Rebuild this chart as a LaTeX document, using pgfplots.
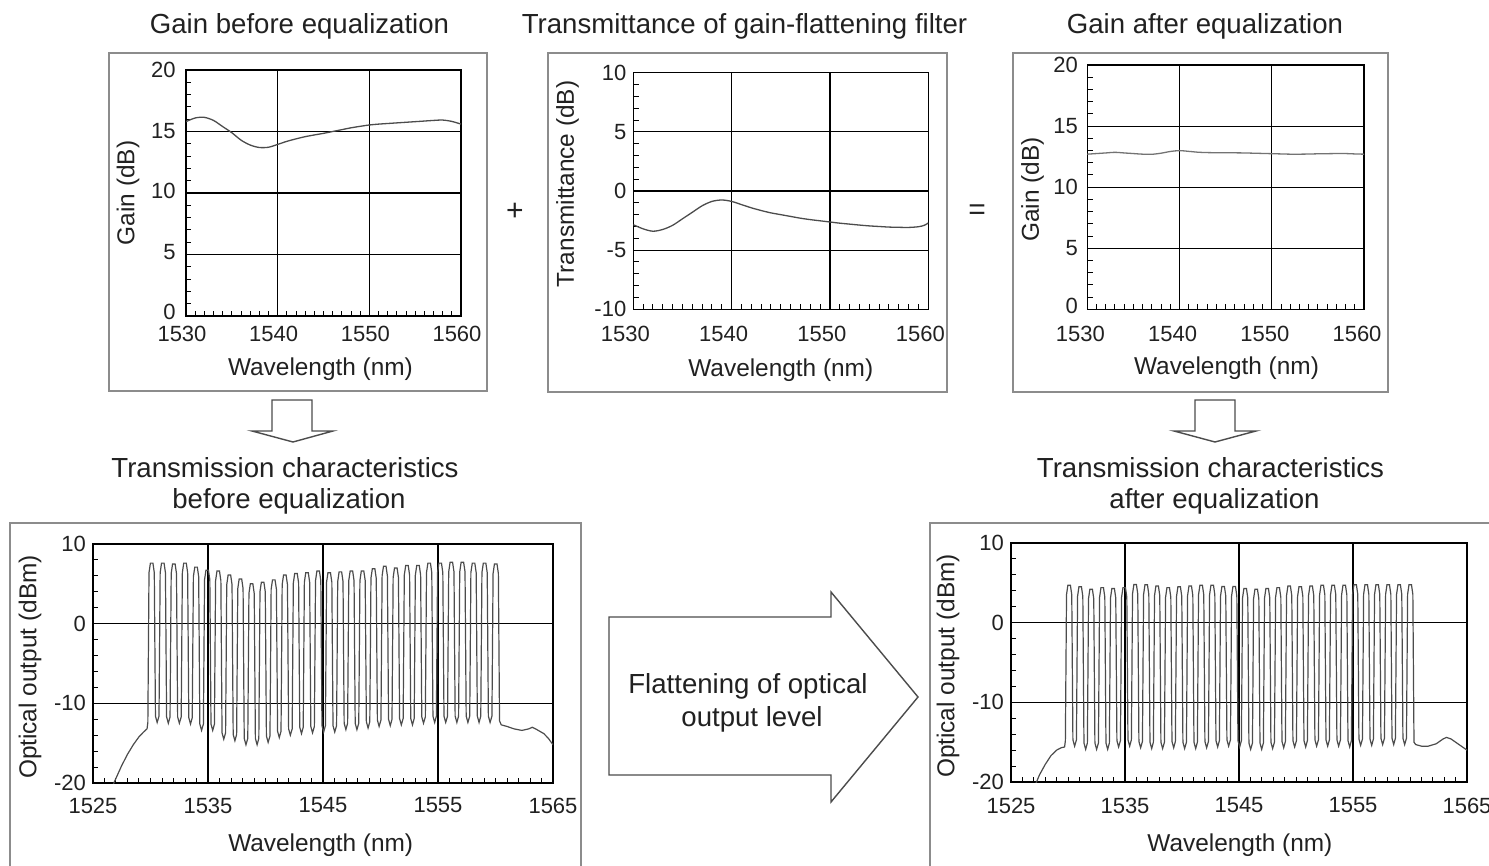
\documentclass[border=0pt]{standalone}
\usepackage{fontspec}
\setmainfont{Liberation Sans}
\usepackage{pgfplots}
\usepackage{pgfplotstable}
\pgfplotsset{compat=1.18}

\definecolor{boxgray}{gray}{0.55}
\definecolor{txt}{gray}{0.13}
\definecolor{trace}{gray}{0.3}

% WDM spectra: x = wavelength (nm), b = before equalization, a = after (dBm)
\pgfplotstableread{
x b a
1526.60 -20.7 -22.0
1527.00 -19.4 -20.8
1527.50 -17.8 -19.1
1528.00 -16.4 -17.8
1528.50 -15.2 -16.7
1529.00 -14.2 -16.0
1529.40 -13.6 -15.7
1529.70 -13.2 -15.6
1529.77 -12.4 -14.8
1529.87 6.4 3.5
1529.99 7.6 4.7
1530.21 7.6 4.7
1530.33 6.4 3.5
1530.43 -11.6 -14.7
1530.58 -12.4 -15.5
1530.74 -11.6 -14.7
1530.84 6.4 3.3
1530.96 7.6 4.5
1531.18 7.6 4.5
1531.30 6.4 3.3
1531.40 -11.7 -15.1
1531.55 -12.5 -15.9
1531.70 -11.7 -15.1
1531.80 6.3 3.0
1531.92 7.5 4.2
1532.14 7.5 4.2
1532.26 6.3 3.0
1532.36 -11.7 -15.1
1532.51 -12.5 -15.9
1532.67 -11.7 -15.1
1532.77 6.4 3.2
1532.89 7.6 4.4
1533.11 7.6 4.4
1533.23 6.4 3.2
1533.33 -11.8 -15.1
1533.48 -12.6 -15.9
1533.63 -11.8 -15.1
1533.73 5.9 3.1
1533.85 7.1 4.3
1534.07 7.1 4.3
1534.19 5.9 3.1
1534.29 -12.6 -14.8
1534.44 -13.4 -15.6
1534.60 -12.6 -14.8
1534.70 5.5 3.2
1534.82 6.7 4.4
1535.04 6.7 4.4
1535.16 5.5 3.2
1535.26 -12.6 -14.7
1535.41 -13.4 -15.5
1535.56 -12.6 -14.7
1535.66 5.4 3.6
1535.78 6.6 4.8
1536.00 6.6 4.8
1536.12 5.4 3.6
1536.22 -13.7 -14.9
1536.37 -14.5 -15.7
1536.53 -13.7 -14.9
1536.63 4.9 3.55
1536.75 6.1 4.75
1536.97 6.1 4.75
1537.09 4.9 3.55
1537.19 -13.9 -15.0
1537.34 -14.7 -15.8
1537.49 -13.9 -15.0
1537.59 4.4 3.4
1537.71 5.6 4.6
1537.93 5.6 4.6
1538.05 4.4 3.4
1538.15 -14.4 -15.0
1538.30 -15.2 -15.8
1538.46 -14.4 -15.0
1538.56 3.8 3.2
1538.68 5.0 4.4
1538.90 5.0 4.4
1539.02 3.8 3.2
1539.12 -14.4 -14.9
1539.27 -15.2 -15.7
1539.42 -14.4 -14.9
1539.52 4.0 3.3
1539.64 5.2 4.5
1539.86 5.2 4.5
1539.98 4.0 3.3
1540.08 -14.1 -15.0
1540.23 -14.9 -15.8
1540.39 -14.1 -15.0
1540.49 4.3 3.4
1540.61 5.5 4.6
1540.83 5.5 4.6
1540.95 4.3 3.4
1541.05 -13.5 -15.0
1541.20 -14.3 -15.8
1541.35 -13.5 -15.0
1541.45 4.9 3.5
1541.57 6.1 4.7
1541.79 6.1 4.7
1541.91 4.9 3.5
1542.01 -13.2 -14.9
1542.16 -14.0 -15.7
1542.32 -13.2 -14.9
1542.42 5.1 3.5
1542.54 6.3 4.7
1542.76 6.3 4.7
1542.88 5.1 3.5
1542.98 -13.0 -14.8
1543.13 -13.8 -15.6
1543.28 -13.0 -14.8
1543.38 5.2 3.35
1543.50 6.4 4.55
1543.72 6.4 4.55
1543.84 5.2 3.35
1543.94 -12.9 -14.7
1544.09 -13.7 -15.5
1544.25 -12.9 -14.7
1544.35 5.4 3.35
1544.47 6.6 4.55
1544.69 6.6 4.55
1544.81 5.4 3.35
1544.91 -12.8 -14.8
1545.06 -13.6 -15.6
1545.21 -12.8 -14.8
1545.31 5.2 3.1
1545.43 6.4 4.3
1545.65 6.4 4.3
1545.77 5.2 3.1
1545.87 -12.8 -15.1
1546.02 -13.6 -15.9
1546.18 -12.8 -15.1
1546.28 5.3 3.0
1546.40 6.5 4.2
1546.62 6.5 4.2
1546.74 5.3 3.0
1546.84 -12.5 -15.1
1546.99 -13.3 -15.9
1547.14 -12.5 -15.1
1547.24 5.4 3.1
1547.36 6.6 4.3
1547.58 6.6 4.3
1547.70 5.4 3.1
1547.80 -12.5 -15.0
1547.95 -13.3 -15.8
1548.11 -12.5 -15.0
1548.21 5.4 3.2
1548.33 6.6 4.4
1548.55 6.6 4.4
1548.67 5.4 3.2
1548.77 -12.3 -14.9
1548.92 -13.1 -15.7
1549.07 -12.3 -14.9
1549.17 5.7 3.4
1549.29 6.9 4.6
1549.51 6.9 4.6
1549.63 5.7 3.4
1549.73 -12.1 -14.8
1549.88 -12.9 -15.6
1550.04 -12.1 -14.8
1550.14 6.0 3.3
1550.26 7.2 4.5
1550.48 7.2 4.5
1550.60 6.0 3.3
1550.70 -12.0 -14.8
1550.85 -12.8 -15.6
1551.00 -12.0 -14.8
1551.10 5.8 3.4
1551.22 7.0 4.6
1551.44 7.0 4.6
1551.56 5.8 3.4
1551.66 -11.9 -14.7
1551.81 -12.7 -15.5
1551.97 -11.9 -14.7
1552.07 6.1 3.5
1552.19 7.3 4.7
1552.41 7.3 4.7
1552.53 6.1 3.5
1552.63 -11.9 -14.7
1552.78 -12.7 -15.5
1552.93 -11.9 -14.7
1553.03 6.1 3.5
1553.15 7.3 4.7
1553.37 7.3 4.7
1553.49 6.1 3.5
1553.59 -11.7 -14.7
1553.74 -12.5 -15.5
1553.90 -11.7 -14.7
1554.00 6.4 3.5
1554.12 7.6 4.7
1554.34 7.6 4.7
1554.46 6.4 3.5
1554.56 -11.6 -14.8
1554.71 -12.4 -15.6
1554.86 -11.6 -14.8
1554.96 6.4 3.55
1555.08 7.6 4.75
1555.30 7.6 4.75
1555.42 6.4 3.55
1555.52 -11.6 -14.6
1555.67 -12.4 -15.4
1555.83 -11.6 -14.6
1555.93 6.5 3.55
1556.05 7.7 4.75
1556.27 7.7 4.75
1556.39 6.5 3.55
1556.49 -11.6 -14.6
1556.64 -12.4 -15.4
1556.79 -11.6 -14.6
1556.89 6.5 3.55
1557.01 7.7 4.75
1557.23 7.7 4.75
1557.35 6.5 3.55
1557.45 -11.6 -14.5
1557.60 -12.4 -15.3
1557.76 -11.6 -14.5
1557.86 6.4 3.55
1557.98 7.6 4.75
1558.20 7.6 4.75
1558.32 6.4 3.55
1558.42 -11.6 -14.5
1558.57 -12.4 -15.3
1558.72 -11.6 -14.5
1558.82 6.4 3.55
1558.94 7.6 4.75
1559.16 7.6 4.75
1559.28 6.4 3.55
1559.38 -11.6 -14.5
1559.53 -12.4 -15.3
1559.69 -11.6 -14.5
1559.79 6.3 3.55
1559.91 7.5 4.75
1560.13 7.5 4.75
1560.25 6.3 3.55
1560.35 -12.2 -15.0
1560.50 -12.7 -15.3
1561.00 -12.9 -15.5
1561.60 -13.2 -15.5
1562.30 -13.4 -15.2
1562.90 -13.2 -14.6
1563.20 -13.0 -14.4
1563.60 -13.3 -14.6
1564.20 -13.8 -15.2
1564.60 -14.4 -15.6
1565.00 -15.2 -16.0
}\spectra

\pgfplotsset{
  panel/.style={
    scale only axis,
    axis line style={black, line width=0.7pt},
    tick pos=left, tick align=inside,
    major tick length=0pt, minor tick length=2.6pt,
    minor tick style={black, line width=0.5pt},
    grid=major, grid style={black, line width=0.55pt},
    tick label style={font=\fontsize{11}{13}\selectfont, text=txt},
    label style={font=\fontsize{12.2}{14}\selectfont, text=txt},
    /pgf/number format/assume math mode=true,
    /pgf/number format/1000 sep={},
    xlabel={Wavelength (nm)},
  },
  gainpanel/.style={panel,
    xmin=1530, xmax=1560, xtick={1530,1540,1550,1560},
    minor x tick num=9, minor y tick num=4},
  specpanel/.style={panel,
    width=230pt, height=119.5pt,
    xmin=1525, xmax=1565, ymin=-20, ymax=10,
    xtick={1525,1535,1545,1555,1565}, ytick={-20,-10,0,10},
    minor x tick num=9, minor y tick num=4,
    ylabel={Optical output (dBm)}},
}

\begin{document}
\begin{tikzpicture}
\useasboundingbox (0,0) rectangle (744.5pt,-433pt);

\begin{scope}[x=0.5pt,y=-0.5pt]
% frames
\draw[boxgray, line width=0.9pt] (109.3,53.3) rectangle (486.7,391);
\draw[boxgray, line width=0.9pt] (548.3,53.3) rectangle (947.3,391.7);
\draw[boxgray, line width=0.9pt] (1013.3,53.3) rectangle (1388.3,391.7);
\draw[boxgray, line width=0.9pt] (10,523) rectangle (581,890);
\draw[boxgray, line width=0.9pt] (930,523) rectangle (1510,890);
% block arrows
\draw[black!70, line width=0.7pt, fill=white]
  (272,400) -- (312,400) -- (312,431) -- (333,431) -- (293,442) -- (252,431) -- (272,431) -- cycle;
\draw[black!70, line width=0.7pt, fill=white]
  (1195,400) -- (1235,400) -- (1235,431) -- (1256,431) -- (1215,442) -- (1174,431) -- (1195,431) -- cycle;
\draw[black!70, line width=0.7pt, fill=white]
  (609,617) -- (831,617) -- (831,592) -- (918,697) -- (831,802) -- (831,775) -- (609,775) -- cycle;
% texts
\begin{scope}[every node/.style={text=txt, font=\fontsize{13.8}{16}\selectfont, anchor=base}]
\node at (299.5,34) {Gain before equalization};
\node at (744.5,34) {Transmittance of gain-flattening filter};
\node at (1205,34) {Gain after equalization};
\node at (285,477) {Transmission characteristics};
\node at (289,508) {before equalization};
\node at (1210.5,477) {Transmission characteristics};
\node at (1214.5,508) {after equalization};
\node at (748,693) {Flattening of optical};
\node at (752,726) {output level};
\end{scope}
\node[text=txt, font=\fontsize{15}{17}\selectfont] at (515,212) {+};
\node[text=txt, font=\fontsize{15}{17}\selectfont] at (977,212) {=};
\end{scope}

% gain before equalization
\begin{axis}[gainpanel, anchor=south west, at={(93pt,-158pt)},
  width=137.5pt, height=123pt,
  ymin=0, ymax=20, ytick={0,5,10,15,20},
  yticklabels={\raisebox{4.5pt}{0},\raisebox{3pt}{5},\raisebox{2.5pt}{10},15,20},
  ylabel={Gain (dB)},
  yticklabel style={xshift=-1.65pt}, xticklabel style={yshift=-1.5pt, xshift=-2pt},
  xlabel style={at={(axis description cs:0.489,-0.215)}, anchor=center},
  ylabel style={at={(axis description cs:-0.211,0.5)}, anchor=center}]
\addplot[trace, line width=0.65pt, smooth] coordinates {
  (1530,15.8)(1531,16.1)(1532,16.15)(1533,15.9)(1534,15.4)(1535,14.9)
  (1536,14.3)(1537,13.9)(1538,13.7)(1539,13.72)(1540,13.95)(1541,14.2)
  (1542,14.4)(1543,14.58)(1544,14.72)(1545,14.85)(1546,15.0)(1547,15.15)
  (1548,15.3)(1549,15.42)(1550,15.53)(1551,15.6)(1552,15.65)(1553,15.7)
  (1554,15.75)(1555,15.8)(1556,15.85)(1557,15.9)(1558,15.93)(1559,15.82)
  (1560,15.6)};
\end{axis}

% transmittance of the filter
\begin{axis}[gainpanel, anchor=south west, at={(316.65pt,-154.65pt)},
  width=147.5pt, height=118.3pt,
  ymin=-10, ymax=10, ytick={-10,-5,0,5,10},
  ylabel={Transmittance (dB)},
  xticklabel style={yshift=-4.8pt, xshift=-4pt},
  xlabel style={at={(axis description cs:0.5,-0.257)}, anchor=center},
  ylabel style={at={(axis description cs:-0.223,0.53)}, anchor=center}]
\addplot[trace, line width=0.65pt, smooth] coordinates {
  (1530,-2.85)(1531,-3.2)(1532,-3.4)(1533,-3.25)(1534,-2.9)(1535,-2.35)
  (1536,-1.8)(1537,-1.25)(1538,-0.88)(1539,-0.76)(1540,-0.88)(1541,-1.15)
  (1542,-1.42)(1543,-1.65)(1544,-1.85)(1545,-2.0)(1546,-2.15)(1547,-2.3)
  (1548,-2.42)(1549,-2.52)(1550,-2.62)(1551,-2.72)(1552,-2.8)(1553,-2.88)
  (1554,-2.95)(1555,-3.0)(1556,-3.05)(1557,-3.07)(1558,-3.08)(1559,-3.02)
  (1559.6,-2.9)(1560,-2.7)};
\end{axis}

% gain after equalization
\begin{axis}[gainpanel, anchor=south west, at={(543.65pt,-154.65pt)},
  width=138.35pt, height=122.15pt,
  ymin=0, ymax=20, ytick={0,5,10,15,20},
  yticklabels={\raisebox{3pt}{0},5,10,15,20},
  ylabel={Gain (dB)},
  yticklabel style={xshift=-1.15pt}, xticklabel style={yshift=-4.8pt, xshift=-3.5pt},
  xlabel style={at={(axis description cs:0.503,-0.24)}, anchor=center},
  ylabel style={at={(axis description cs:-0.198,0.49)}, anchor=center}]
\addplot[black!55, line width=0.65pt, smooth] coordinates {
  (1530,12.7)(1531,12.75)(1532,12.8)(1533,12.85)(1534,12.8)(1535,12.75)
  (1536,12.7)(1537,12.69)(1538,12.78)(1539,12.92)(1540,12.99)(1541,12.93)
  (1542,12.86)(1543,12.83)(1544,12.82)(1545,12.82)(1546,12.81)(1547,12.8)
  (1548,12.78)(1549,12.76)(1550,12.74)(1551,12.72)(1552,12.7)(1553,12.7)
  (1554,12.71)(1555,12.73)(1556,12.74)(1557,12.75)(1558,12.75)(1559,12.72)
  (1560,12.7)};
\end{axis}

% transmission before equalization
\begin{axis}[specpanel, anchor=south west, at={(46.5pt,-391.5pt)},
  xticklabel style={yshift=-3.8pt},
  xlabel style={at={(axis description cs:0.495,-0.26)}, anchor=center},
  ylabel style={at={(axis description cs:-0.137,0.485)}, anchor=center}]
\addplot[trace, line width=0.6pt] table[x=x, y=b] {\spectra};
\end{axis}

% transmission after equalization
\begin{axis}[specpanel, anchor=south west, at={(505.5pt,-391pt)},
  width=228pt,
  xticklabel style={yshift=-4.3pt},
  xlabel style={at={(axis description cs:0.502,-0.264)}, anchor=center},
  ylabel style={at={(axis description cs:-0.138,0.485)}, anchor=center}]
\addplot[trace, line width=0.6pt] table[x=x, y=a] {\spectra};
\end{axis}
\end{tikzpicture}
\end{document}
